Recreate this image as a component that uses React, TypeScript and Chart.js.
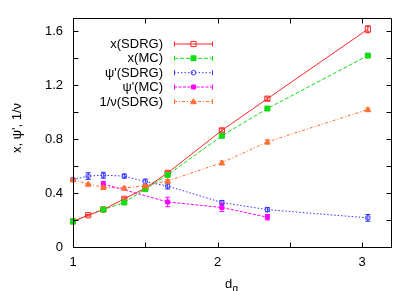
import React, { useEffect, useRef } from "react";
import { Chart, registerables } from "chart.js";

Chart.register(...registerables);

const dg = [1, 1.105, 1.21, 1.355, 1.5, 1.655, 2.03, 2.345, 3.04];
const xSDRG = [0.19, 0.236, 0.278, 0.357, 0.436, 0.55, 0.865, 1.1, 1.615];
const xSDRGErr = [0.005, 0.006, 0.006, 0.008, 0.008, 0.012, 0.012, 0.012, 0.026];
const xMC = [0.19, null, 0.278, 0.33, 0.43, 0.535, 0.825, 1.027, 1.42];
const xMCErr = [0.004, 0, 0.004, 0.006, 0.006, 0.008, 0.008, 0.008, 0.008];
const psiSDRG = [0.5, 0.526, 0.532, 0.526, 0.484, 0.452, 0.33, 0.277, 0.216];
const psiSDRGErr = [0.01, 0.025, 0.022, 0.015, 0.02, 0.022, 0.015, 0.015, 0.025];
const psiMC = [null, null, 0.467, null, null, 0.334, 0.293, 0.221, null];
const psiMCErr = [0, 0, 0.02, 0, 0, 0.035, 0.03, 0.02, 0];
const nuSDRG = [0.5, 0.467, 0.443, 0.438, 0.454, 0.49, 0.625, 0.78, 1.02];
const nuSDRGErr = [0.005, 0.006, 0.008, 0.008, 0.008, 0.01, 0.012, 0.015, 0.01];

const seriesLabels = ["x(SDRG)", "x(MC)", "\u03C8'(SDRG)", "\u03C8'(MC)", "1/\u03BD(SDRG)"];
const xTickValues = [1, 1.5, 2, 2.5, 3];
const yTickValues = [0, 0.2, 0.4, 0.6, 0.8, 1.0, 1.2, 1.4, 1.6];

const FONT = "'Liberation Sans', Arial, sans-serif";

type Style = {
  color: string;
  dash: number[];
  marker: string;
  filled: boolean;
  size: number;
};

const styles: Style[] = [
  { color: "rgb(255,40,40)", dash: [], marker: "rect", filled: false, size: 2.6 },
  { color: "rgb(20,220,20)", dash: [4, 2], marker: "rect", filled: true, size: 2.5 },
  { color: "rgb(50,50,255)", dash: [1.5, 2], marker: "circle", filled: false, size: 2.3 },
  { color: "rgb(255,0,255)", dash: [3, 1.5], marker: "rect", filled: true, size: 2 },
  { color: "rgb(255,110,50)", dash: [3, 2, 1, 2], marker: "triangle", filled: true, size: 2.8 },
];

const values = [xSDRG, xMC, psiSDRG, psiMC, nuSDRG];
const errors = [xSDRGErr, xMCErr, psiSDRGErr, psiMCErr, nuSDRGErr];

function drawMarker(ctx: CanvasRenderingContext2D, s: Style, x: number, y: number) {
  ctx.save();
  ctx.setLineDash([]);
  ctx.strokeStyle = s.color;
  ctx.fillStyle = s.color;
  ctx.lineWidth = 1;
  ctx.beginPath();
  if (s.marker === "rect") {
    ctx.rect(x - s.size, y - s.size, s.size * 2, s.size * 2);
  } else if (s.marker === "circle") {
    ctx.arc(x, y, s.size, 0, Math.PI * 2);
  } else {
    ctx.moveTo(x, y - s.size);
    ctx.lineTo(x + s.size, y + s.size * 0.8);
    ctx.lineTo(x - s.size, y + s.size * 0.8);
    ctx.closePath();
  }
  if (s.filled) ctx.fill();
  ctx.stroke();
  ctx.restore();
}

const decorPlugin = {
  id: "decor",
  afterDatasetsDraw(chart: any) {
    const ctx: CanvasRenderingContext2D = chart.ctx;
    const xs = chart.scales.x;
    const ys = chart.scales.y;
    ctx.save();
    values.forEach((arr, si) => {
      const s = styles[si];
      arr.forEach((v, i) => {
        if (v === null) return;
        const e = errors[si][i];
        const px = xs.getPixelForValue(dg[i]);
        if (e > 0) {
          const y1 = ys.getPixelForValue((v as number) - e);
          const y2 = ys.getPixelForValue((v as number) + e);
          ctx.strokeStyle = s.color;
          ctx.lineWidth = 1;
          ctx.setLineDash([]);
          ctx.beginPath();
          ctx.moveTo(px, y1);
          ctx.lineTo(px, y2);
          ctx.moveTo(px - 2.5, y1);
          ctx.lineTo(px + 2.5, y1);
          ctx.moveTo(px - 2.5, y2);
          ctx.lineTo(px + 2.5, y2);
          ctx.stroke();
        }
        drawMarker(ctx, s, px, ys.getPixelForValue(v as number));
      });
    });
    ctx.restore();
  },
  afterDraw(chart: any) {
    const ctx: CanvasRenderingContext2D = chart.ctx;
    const a = chart.chartArea;
    const xs = chart.scales.x;
    const ys = chart.scales.y;
    ctx.save();
    ctx.strokeStyle = "#000";
    ctx.lineWidth = 1;
    ctx.setLineDash([]);
    const L = Math.round(a.left) + 0.5;
    const R = Math.round(a.right) + 0.5;
    const T = Math.round(a.top) + 0.5;
    const B = Math.round(a.bottom) + 0.5;
    ctx.beginPath();
    ctx.rect(L, T, R - L, B - T);
    const tl = 5;
    xTickValues.forEach((v) => {
      const p = Math.round(xs.getPixelForValue(v)) + 0.5;
      ctx.moveTo(p, B);
      ctx.lineTo(p, B - tl);
      ctx.moveTo(p, T);
      ctx.lineTo(p, T + tl);
    });
    yTickValues.forEach((v) => {
      const p = Math.round(ys.getPixelForValue(v)) + 0.5;
      ctx.moveTo(L, p);
      ctx.lineTo(L + tl, p);
      ctx.moveTo(R, p);
      ctx.lineTo(R - tl, p);
    });
    ctx.stroke();

    // axis titles
    ctx.fillStyle = "#000";
    ctx.font = `13px ${FONT}`;
    ctx.save();
    ctx.translate(17, 128);
    ctx.rotate(-Math.PI / 2);
    ctx.textAlign = "center";
    ctx.textBaseline = "middle";
    ctx.fillText("x, \u03C8', 1/\u03BD", 0, 0);
    ctx.restore();

    ctx.textAlign = "left";
    ctx.textBaseline = "alphabetic";
    ctx.fillText("d", 225, 288);
    ctx.font = `10px ${FONT}`;
    ctx.fillText("g", 232.5, 292);

    // legend
    const rows = [44, 58.3, 72.7, 87, 101.5];
    ctx.font = `13px ${FONT}`;
    rows.forEach((y, i) => {
      const s = styles[i];
      ctx.fillStyle = "#000";
      ctx.textAlign = "right";
      ctx.textBaseline = "middle";
      ctx.fillText(seriesLabels[i], 163, y + 0.5);
      ctx.strokeStyle = s.color;
      ctx.lineWidth = 1;
      ctx.setLineDash(s.dash);
      ctx.beginPath();
      ctx.moveTo(174, y);
      ctx.lineTo(213, y);
      ctx.stroke();
      ctx.setLineDash([]);
      ctx.beginPath();
      ctx.moveTo(174.5, y - 2.5);
      ctx.lineTo(174.5, y + 2.5);
      ctx.moveTo(212.5, y - 2.5);
      ctx.lineTo(212.5, y + 2.5);
      ctx.stroke();
      drawMarker(ctx, s, 193.5, y);
    });
    ctx.restore();
  },
};

export default function App() {
  const ref = useRef<HTMLCanvasElement>(null);
  useEffect(() => {
    document.body.style.margin = "0";
    const canvas = ref.current!;
    const chart = new Chart(canvas, {
      type: "line",
      data: {
        datasets: values.map((arr, si) => ({
          label: seriesLabels[si],
          data: dg.map((d, i) => ({ x: d, y: arr[i] })),
          borderColor: styles[si].color,
          borderWidth: 1,
          borderDash: styles[si].dash,
          pointRadius: 0,
          spanGaps: true,
          fill: false,
          tension: 0,
        })),
      },
      options: {
        responsive: false,
        animation: false,
        events: [],
        layout: { padding: { left: 0, right: 24, top: 17, bottom: 0 } },
        plugins: {
          legend: { display: false },
          tooltip: { enabled: false },
          title: { display: false },
        },
        scales: {
          x: {
            type: "linear",
            min: 1,
            max: 3.2,
            grid: { display: false, drawTicks: false },
            border: { display: false },
            afterBuildTicks: (scale: any) => {
              scale.ticks = xTickValues.map((v) => ({ value: v }));
            },
            afterFit: (scale: any) => {
              scale.height = 44;
            },
            ticks: {
              padding: 8,
              maxRotation: 0,
              color: "#000",
              font: { family: FONT, size: 13 },
              callback: (v: any) => (Number.isInteger(v) ? String(v) : ""),
            },
          },
          y: {
            type: "linear",
            min: 0,
            max: 1.7,
            grid: { display: false, drawTicks: false },
            border: { display: false },
            afterBuildTicks: (scale: any) => {
              scale.ticks = yTickValues.map((v) => ({ value: v }));
            },
            afterFit: (scale: any) => {
              scale.width = 73;
            },
            ticks: {
              padding: 10,
              color: "#000",
              font: { family: FONT, size: 13 },
              callback: (v: any) => {
                const r = Math.round(v * 10);
                if (r % 4 !== 0) return "";
                return r === 0 ? "0" : (r / 10).toFixed(1);
              },
            },
          },
        },
      },
      plugins: [decorPlugin],
    });
    return () => chart.destroy();
  }, []);
  return (
    <canvas
      ref={ref}
      width={415}
      height={291}
      style={{ display: "block", width: 415, height: 291 }}
    />
  );
}
